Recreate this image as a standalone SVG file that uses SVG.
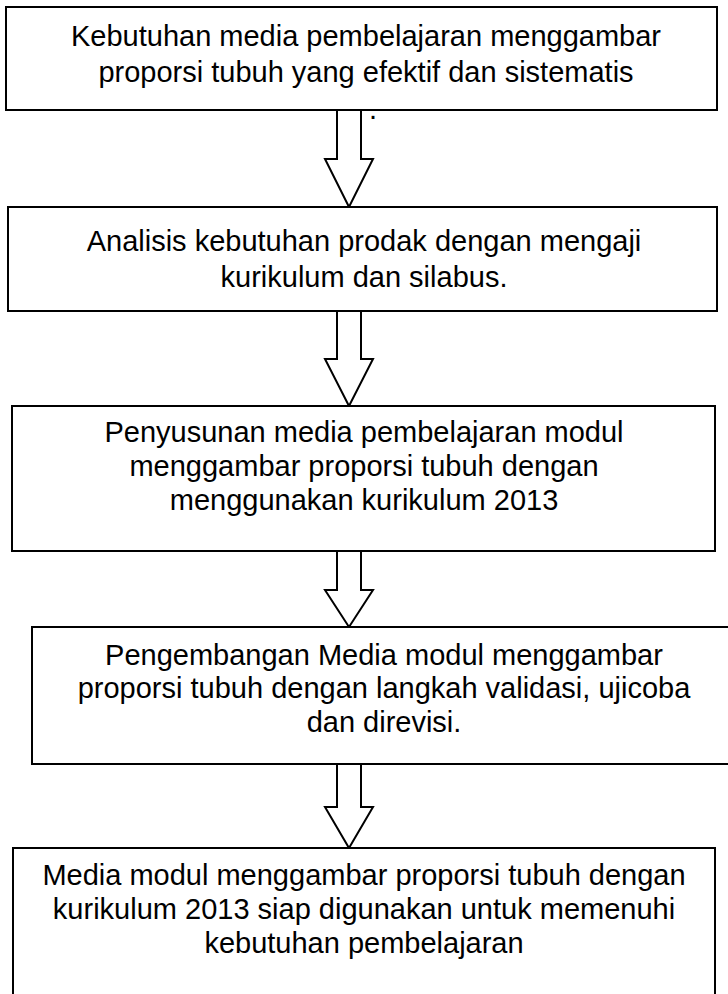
<svg xmlns="http://www.w3.org/2000/svg" width="728" height="994" viewBox="0 0 728 994">
<style>
.box{fill:#fff;stroke:#000;stroke-width:2}
.arr{fill:#fff;stroke:#000;stroke-width:2;stroke-linejoin:miter}
.t{font-family:"Liberation Sans",Arial,sans-serif;font-size:29px;fill:#000;text-anchor:middle}
</style>
<rect width="728" height="994" fill="#fff"/>
<g id="connectors">
<path class="arr" d="M337,111 V159 H325 L349,207 L373,159 H361 V111"/>
<path class="arr" d="M337,311 V359 H325 L349,406 L373,359 H361 V311"/>
<path class="arr" d="M337,551 V590 H325 L349,627 L373,590 H361 V551"/>
<path class="arr" d="M337,764 V807 H325 L349,848 L373,807 H361 V764"/>
</g>
<g id="n1">
<rect class="box" x="6" y="7" width="711" height="103"/>
<text class="t" x="366" y="46">Kebutuhan media pembelajaran menggambar</text>
<text class="t" x="366" y="82">proporsi tubuh yang efektif dan sistematis</text>
<text x="369" y="119" style="font-family:'Liberation Sans',Arial,sans-serif;font-size:29px">.</text>
</g>
<g id="n2">
<rect class="box" x="8" y="207" width="709" height="104"/>
<text class="t" x="364" y="251">Analisis kebutuhan prodak dengan mengaji</text>
<text class="t" x="364" y="287">kurikulum dan silabus.</text>
</g>
<g id="n3">
<rect class="box" x="12" y="406" width="703" height="145"/>
<text class="t" x="364" y="442">Penyusunan media pembelajaran modul</text>
<text class="t" x="364" y="476">menggambar proporsi tubuh dengan</text>
<text class="t" x="364" y="510">menggunakan kurikulum 2013</text>
</g>
<g id="n4">
<rect class="box" x="32" y="627" width="710" height="137"/>
<text class="t" x="384" y="665">Pengembangan Media modul menggambar</text>
<text class="t" x="384" y="698">proporsi tubuh dengan langkah validasi, ujicoba</text>
<text class="t" x="384" y="732">dan direvisi.</text>
</g>
<g id="n5">
<rect class="box" x="13" y="848" width="702" height="160"/>
<text class="t" x="364" y="885">Media modul menggambar proporsi tubuh dengan</text>
<text class="t" x="364" y="919">kurikulum 2013 siap digunakan untuk memenuhi</text>
<text class="t" x="364" y="953">kebutuhan pembelajaran</text>
</g>
</svg>
